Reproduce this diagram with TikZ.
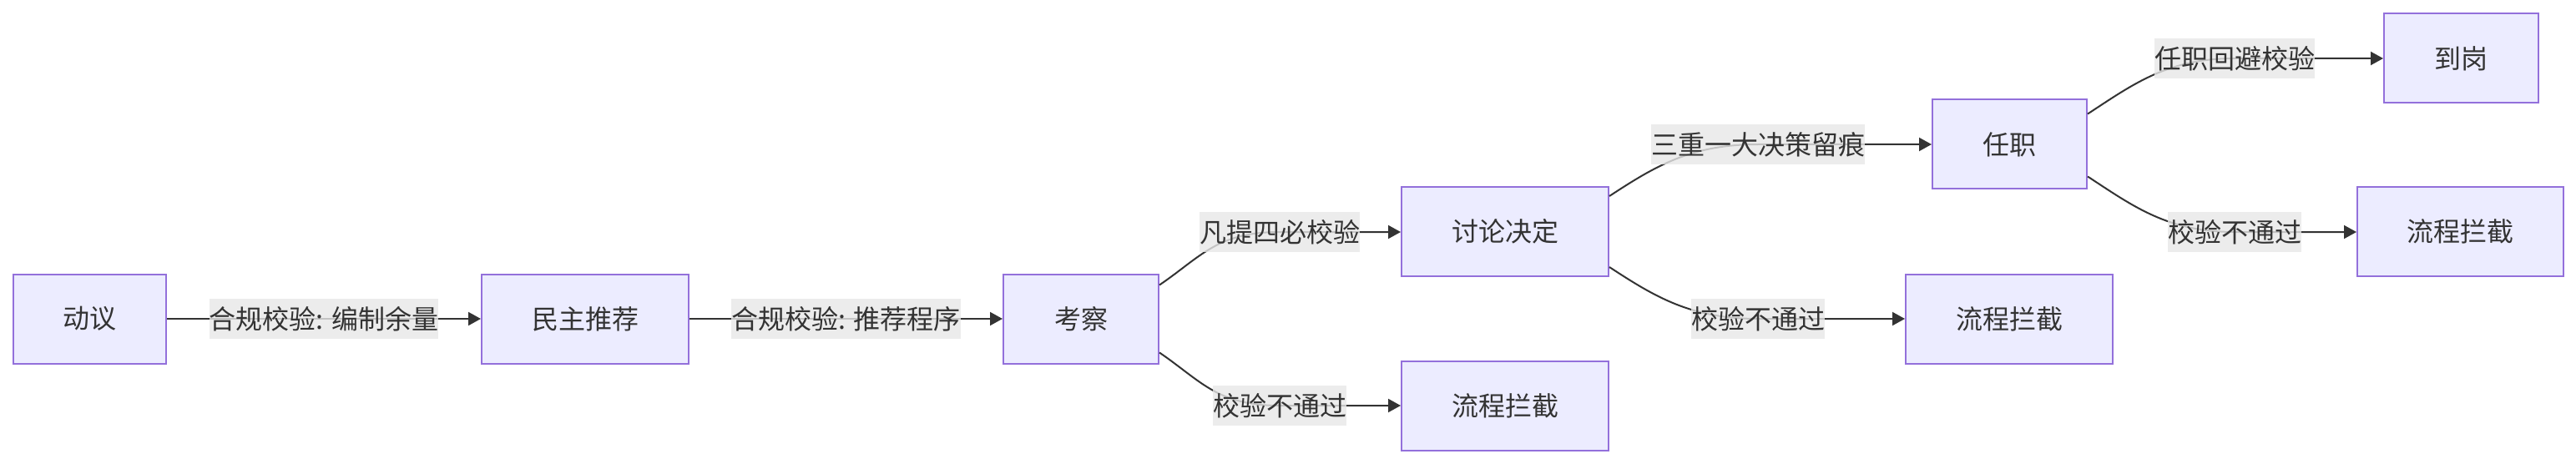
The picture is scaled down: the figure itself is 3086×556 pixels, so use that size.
\documentclass[tikz,border=0pt]{standalone}
\usepackage{fontspec}
\setmainfont{Noto Sans CJK SC}
\usetikzlibrary{arrows.meta}
\definecolor{nfill}{HTML}{ECECFF}
\definecolor{nstroke}{HTML}{9370DB}
\definecolor{ecol}{HTML}{333333}
\definecolor{lfill}{HTML}{E8E8E8}
\begin{document}
\begin{tikzpicture}[x=1pt,y=-1pt,
  box/.style={draw=nstroke, fill=nfill, line width=2pt, minimum height=107pt, inner sep=0pt, text=ecol, font=\fontsize{32}{38}\selectfont},
  lab/.style={fill=lfill, fill opacity=0.8, text opacity=1, text=ecol, inner sep=0pt, minimum height=48pt, font=\fontsize{32}{38}\selectfont},
  edge/.style={draw=ecol, line width=2pt, -{Triangle[length=15pt,width=16pt]}}]
\path[use as bounding box, fill=white] (0,0) rectangle (3086,556);

\node[box, minimum width=183pt] (dy) at (107.5,382) {动议};
\node[box, minimum width=248pt] (mz) at (701,382) {民主推荐};
\node[box, minimum width=186pt] (kc) at (1295,382) {考察};
\node[box, minimum width=248pt] (tl) at (1803,277.5) {讨论决定};
\node[box, minimum width=248pt] (lj1) at (1803,486) {流程拦截};
\node[box, minimum width=185pt] (rz) at (2407.5,173) {任职};
\node[box, minimum width=248pt] (lj2) at (2407,382) {流程拦截};
\node[box, minimum width=185pt] (dg) at (2948.5,70) {到岗};
\node[box, minimum width=247pt] (lj3) at (2947.5,277.5) {流程拦截};

\coordinate (m3) at (1533,278);
\coordinate (m4) at (1533,486);
\coordinate (m5) at (2106,173);
\coordinate (m6) at (2106,382);
\coordinate (m7) at (2677,70);
\coordinate (m8) at (2677,278);

\draw[edge] (dy) -- node[lab]{合规校验: 编制余量} (mz);
\draw[edge] (mz) -- node[lab]{合规校验: 推荐程序} (kc);

\draw[edge] ([yshift=-14pt]kc.north east) .. controls +(50,-34) and +(-75,0) .. (m3) -- (m3 -| tl.west);
\draw[edge] ([yshift=14pt]kc.south east) .. controls +(50,34) and +(-75,0) .. (m4) -- (m4 -| lj1.west);
\draw[edge] ([yshift=-12pt]tl.north east) .. controls +(55,-36) and +(-80,0) .. (m5) -- (m5 -| rz.west);
\draw[edge] ([yshift=12pt]tl.south east) .. controls +(55,36) and +(-80,0) .. (m6) -- (m6 -| lj2.west);
\draw[edge] ([yshift=-18pt]rz.north east) .. controls +(55,-36) and +(-80,0) .. (m7) -- (m7 -| dg.west);
\draw[edge] ([yshift=16pt]rz.south east) .. controls +(55,36) and +(-80,0) .. (m8) -- (m8 -| lj3.west);

\node[lab] at (m3) {凡提四必校验};
\node[lab] at (m4) {校验不通过};
\node[lab] at (m5) {三重一大决策留痕};
\node[lab] at (m6) {校验不通过};
\node[lab] at (m7) {任职回避校验};
\node[lab] at (m8) {校验不通过};
\end{tikzpicture}
\end{document}
